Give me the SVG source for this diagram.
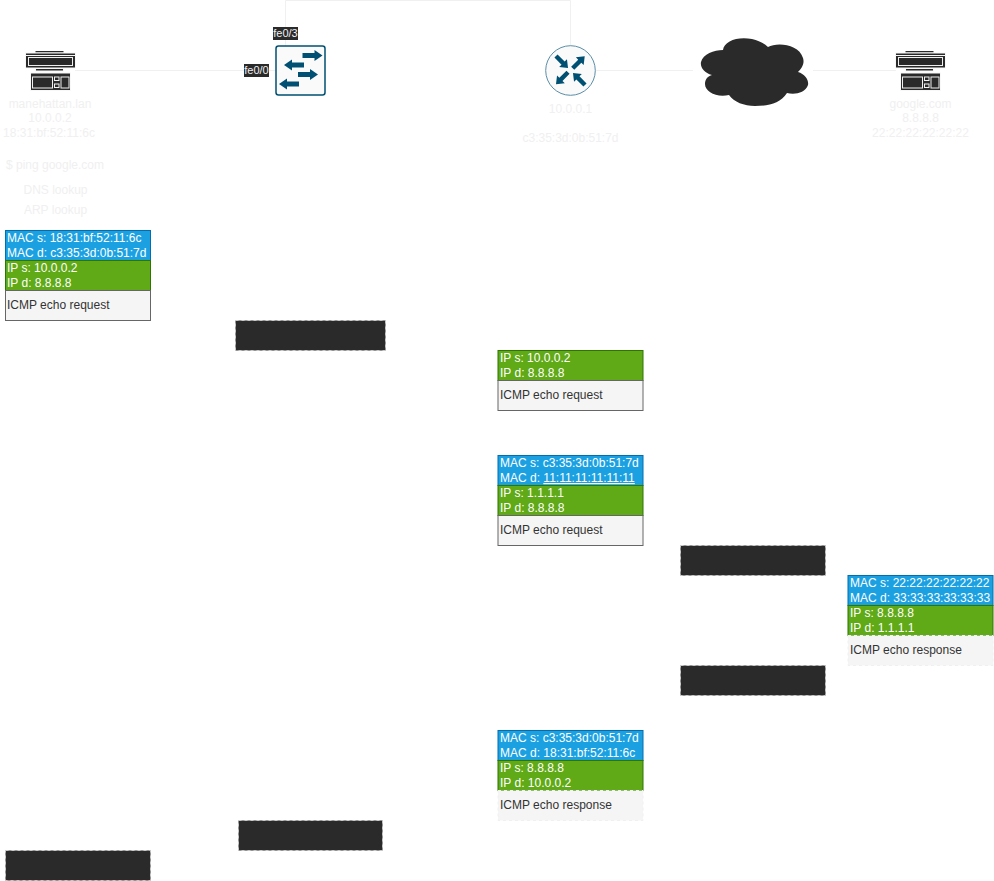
<svg xmlns="http://www.w3.org/2000/svg" width="994" height="881" viewBox="0 0 994 881">
<style>
text{font-family:"Liberation Sans",Arial,sans-serif;font-size:12px}
.l{fill:#f0f0f0;text-anchor:middle}
.w{fill:#fff}
.d{fill:#333}
.link{fill:none;stroke:#f0f0f0;stroke-width:1}
.mac{fill:#1ba1e2;stroke:#006eaf}
.ip{fill:#60a917;stroke:#2d7600}
.pl{fill:#f5f5f5;stroke:#666}
.pd{fill:#f5f5f5;stroke:#f0f0f0;stroke-dasharray:3 3}
.red{fill:#2a2a2a;stroke:#c8c8c8;stroke-dasharray:3 3}
.tag{fill:#2a2a2a}
.tt{fill:#f0f0f0;font-size:11px;text-anchor:middle}
.ic{fill:#2a2a2a;stroke:#f8f8f8;stroke-width:1}
.in{fill:none;stroke:#f0f0f0;stroke-width:1}
.af{fill:#005073}
</style>
<defs>
<g id="server">
<rect x="10" y="0" width="28" height="1.500" fill="#2a2a2a"/>
<rect x="0" y="2" width="50" height="15" class="ic"/>
<path d="M0 4.500H50" stroke="#f8f8f8" fill="none"/>
<rect x="3" y="6.500" width="44" height="8" class="in"/>
<rect x="10" y="17.500" width="28" height="2.500" class="ic"/>
<rect x="5" y="22" width="40" height="17.500" class="ic"/>
<rect x="7" y="26" width="20" height="11" class="in"/>
<rect x="29" y="26" width="4.500" height="3.500" class="in"/>
<rect x="29" y="33" width="4.500" height="3.500" class="in"/>
<rect x="35.500" y="26" width="8" height="11" class="in"/>
</g>
<path id="sa" class="af" d="M0 -2.500H12V-5.500L20 0L12 5.500V2.500H0Z"/>
<path id="ra" class="af" d="M0 -2.200H10V-5.500L17 0L10 5.500V2.200H0Z"/>
</defs>
<g id="connectors">
<path class="link" d="M75 70.500H276"/>
<path class="link" d="M285.500 46V0.500H570.500V46"/>
<path class="link" d="M595 70.500H693"/>
<path class="link" d="M813 70.500H896"/>
</g>
<g id="host-a">
<use href="#server" x="25.500" y="51"/>
<text class="l" x="50" y="108">manehattan.lan</text>
<text class="l" x="50" y="122">10.0.0.2</text>
<text class="l" x="49" y="137">18:31:bf:52:11:6c</text>
<text class="l" x="55" y="169">$ ping google.com</text>
<text class="l" x="55.500" y="194">DNS lookup</text>
<text class="l" x="55.500" y="214">ARP lookup</text>
</g>
<g id="switch">
<rect x="276" y="46" width="49" height="49" rx="2.500" fill="#fafafa" stroke="#005073" stroke-width="1.500"/>
<use href="#sa" transform="translate(302.500 55.500)"/>
<use href="#sa" transform="translate(304 65) rotate(180)"/>
<use href="#sa" transform="translate(298 74.500)"/>
<use href="#sa" transform="translate(299 84) rotate(180)"/>
<rect class="tag" x="273" y="27" width="25" height="13"/>
<text class="tt" x="285.500" y="37">fe0/3</text>
<rect class="tag" x="244" y="64" width="25" height="13"/>
<text class="tt" x="256.500" y="74">fe0/0</text>
</g>
<g id="router">
<circle cx="570.500" cy="70.500" r="24.800" fill="#fafafa" stroke="#5a8fa8" stroke-width="1"/>
<use href="#ra" transform="translate(556 56) rotate(45)"/>
<use href="#ra" transform="translate(572.700 68.300) rotate(-45)"/>
<use href="#ra" transform="translate(568 72.300) rotate(135)"/>
<use href="#ra" transform="translate(585 85) rotate(225)"/>
<text class="l" x="570.500" y="113">10.0.0.1</text>
<text class="l" x="570.500" y="142">c3:35:3d:0b:51:7d</text>
</g>
<g id="cloud">
<path fill="#2a2a2a" d="M723 50C724 41 738 36 752 39C760 41 765 44 768 47C777 42 799 44 803 58C805 64 801 69 798 72C805 74 809 80 808 85C805 93 795 95 787 93C780 103 770 106 755 106C744 106 734 102 729 95C717 98 705 92 705 84C705 79 708 76 712 75C704 73 700 67 701 62C703 54 714 50 723 50Z"/>
</g>
<g id="host-b">
<use href="#server" x="895.500" y="51"/>
<text class="l" x="920.500" y="108">google.com</text>
<text class="l" x="920.500" y="122">8.8.8.8</text>
<text class="l" x="920.500" y="137">22:22:22:22:22:22</text>
</g>
<g id="packet-1">
<rect class="mac" x="5.500" y="230.500" width="145" height="30"/>
<rect class="ip" x="5.500" y="260.500" width="145" height="30"/>
<rect class="pl" x="5.500" y="290.500" width="145" height="30"/>
<text class="w" x="7" y="242">MAC s: 18:31:bf:52:11:6c</text>
<text class="w" x="7" y="257">MAC d: c3:35:3d:0b:51:7d</text>
<text class="w" x="7" y="272">IP s: 10.0.0.2</text>
<text class="w" x="7" y="287">IP d: 8.8.8.8</text>
<text class="d" x="7" y="309">ICMP echo request</text>
</g>
<g id="redacted-1"><rect class="red" x="235.500" y="320.500" width="150" height="30"/></g>
<g id="packet-2">
<rect class="ip" x="498" y="350.500" width="145" height="30"/>
<rect class="pl" x="498" y="380.500" width="145" height="30"/>
<text class="w" x="500" y="362">IP s: 10.0.0.2</text>
<text class="w" x="500" y="377">IP d: 8.8.8.8</text>
<text class="d" x="500" y="399">ICMP echo request</text>
</g>
<g id="packet-3">
<rect class="mac" x="498" y="455.500" width="145" height="30"/>
<rect class="ip" x="498" y="485.500" width="145" height="30"/>
<rect class="pl" x="498" y="515.500" width="145" height="30"/>
<text class="w" x="500" y="467">MAC s: c3:35:3d:0b:51:7d</text>
<text class="w" x="500" y="482">MAC d: <tspan text-decoration="underline">11:11:11:11:11:11</tspan></text>
<text class="w" x="500" y="497">IP s: 1.1.1.1</text>
<text class="w" x="500" y="512">IP d: 8.8.8.8</text>
<text class="d" x="500" y="534">ICMP echo request</text>
</g>
<g id="redacted-2"><rect class="red" x="680.500" y="545.500" width="145" height="30"/></g>
<g id="packet-4">
<rect class="mac" x="848" y="575.500" width="145" height="30"/>
<rect class="ip" x="848" y="605.500" width="145" height="30"/>
<rect class="pd" x="848" y="635.500" width="145" height="30"/>
<text class="w" x="850" y="587">MAC s: 22:22:22:22:22:22</text>
<text class="w" x="850" y="602">MAC d: 33:33:33:33:33:33</text>
<text class="w" x="850" y="617">IP s: 8.8.8.8</text>
<text class="w" x="850" y="632">IP d: 1.1.1.1</text>
<text class="d" x="850" y="654">ICMP echo response</text>
</g>
<g id="redacted-3"><rect class="red" x="680.500" y="665.500" width="145" height="30"/></g>
<g id="packet-5">
<rect class="mac" x="498" y="730.500" width="145" height="30"/>
<rect class="ip" x="498" y="760.500" width="145" height="30"/>
<rect class="pd" x="498" y="790.500" width="145" height="30"/>
<text class="w" x="500" y="742">MAC s: c3:35:3d:0b:51:7d</text>
<text class="w" x="500" y="757">MAC d: 18:31:bf:52:11:6c</text>
<text class="w" x="500" y="772">IP s: 8.8.8.8</text>
<text class="w" x="500" y="787">IP d: 10.0.0.2</text>
<text class="d" x="500" y="809">ICMP echo response</text>
</g>
<g id="redacted-4"><rect class="red" x="238.500" y="820.500" width="144" height="30"/></g>
<g id="redacted-5"><rect class="red" x="5.500" y="850.500" width="145" height="30"/></g>
</svg>
